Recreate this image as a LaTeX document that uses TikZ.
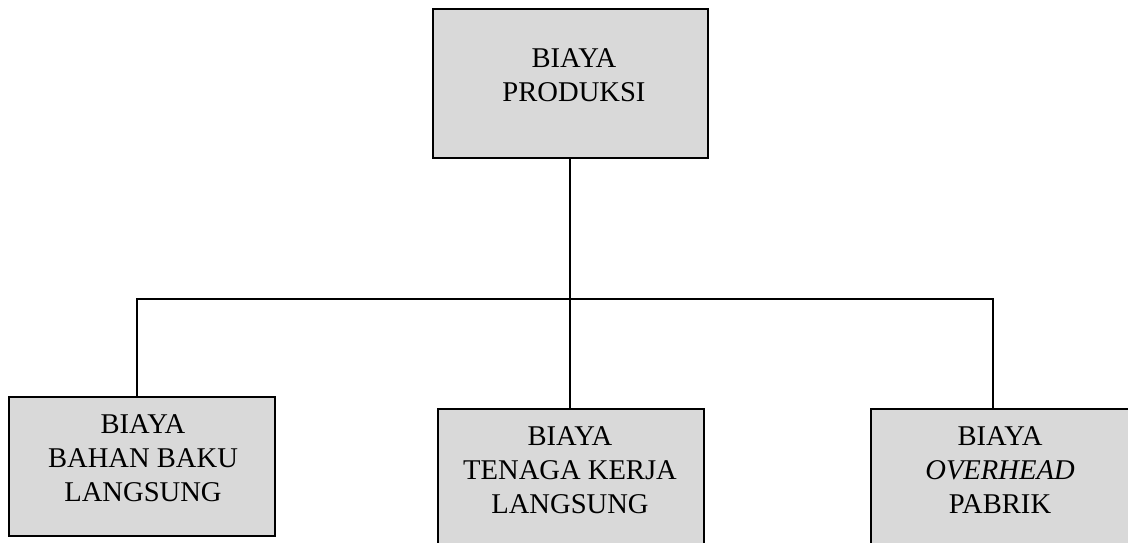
\documentclass[tikz,border=0pt]{standalone}
\usepackage{fontspec}
\setmainfont{Liberation Serif}
\begin{document}
\begin{tikzpicture}[x=0.5pt,y=-0.5pt,
  box/.style={draw=black, line width=1pt, fill=black!15, inner sep=0pt, anchor=north west},
  label/.style={align=center, inner sep=0pt, font=\fontsize{14.3}{17}\selectfont},
  link/.style={draw=black, line width=1pt}]
\useasboundingbox (0,0) rectangle (1128,542);
\clip (0,0) rectangle (1128,542);
% boxes (sizes in pixels of the 1128x542 canvas)
\node[box, minimum width=137.5pt, minimum height=74.5pt] (top) at (432,8) {};
\node[box, minimum width=133pt, minimum height=69.5pt] (left) at (8,396) {};
\node[box, minimum width=133pt, minimum height=70pt] (mid) at (437,408) {};
\node[box, minimum width=133pt, minimum height=70pt] (right) at (870,408) {};
% texts
\node[label] (ttop) at (574,75.5) {BIAYA\\PRODUKSI};
\node[label] (tleft) at (143,458) {BIAYA\\BAHAN BAKU\\LANGSUNG};
\node[label] (tmid) at (570,470) {BIAYA\\TENAGA KERJA\\LANGSUNG};
\node[label] (tright) at (1000,470.5) {BIAYA\\\textit{OVERHEAD}\\PABRIK};
% connectors
\coordinate (bus) at (570,299);
\coordinate (busL) at (137,299);
\coordinate (busR) at (993,299);
\draw[link] (bus |- top.south) -- (bus) -- (bus |- mid.north);
\draw[link] (busL |- left.north) -- (busL) -- (busR) -- (busR |- right.north);
\end{tikzpicture}
\end{document}
